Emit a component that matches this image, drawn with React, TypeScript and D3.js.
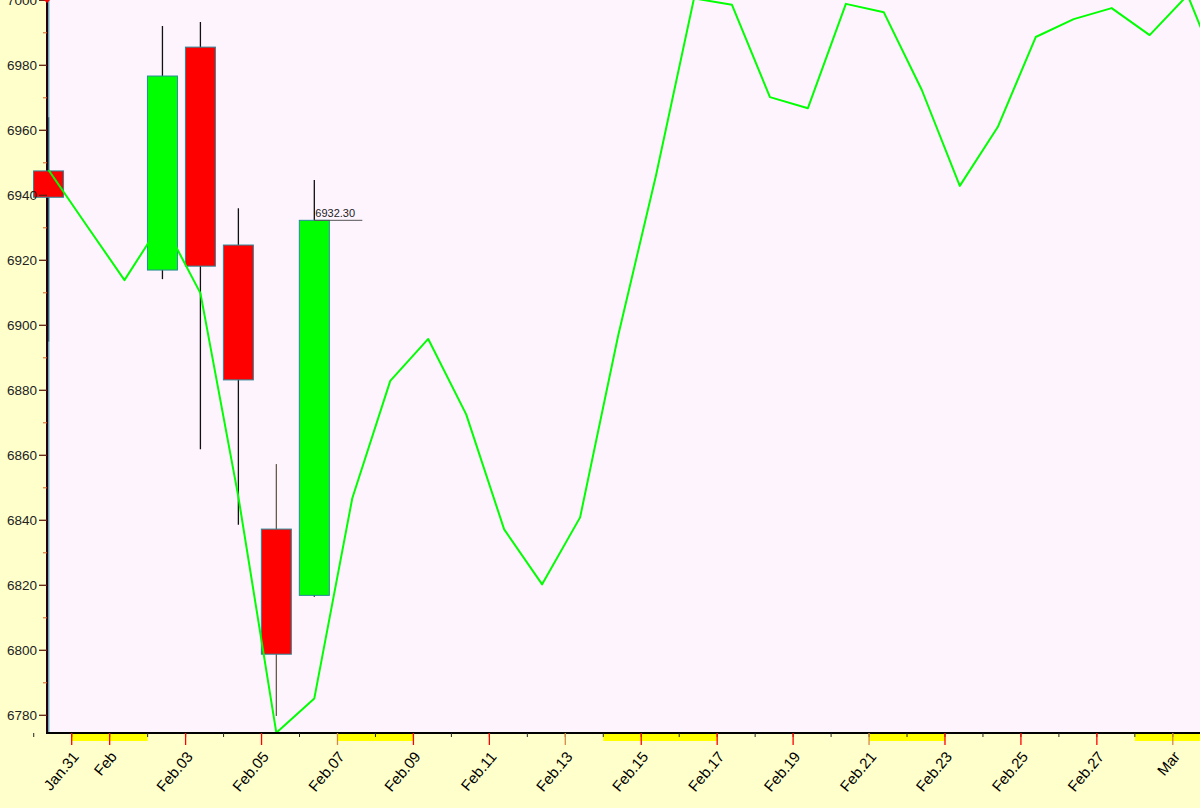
import React from "react";
import * as d3 from "d3";

// ---- data ----
const candleDates = ["2026-01-30", "2026-02-02", "2026-02-03", "2026-02-04", "2026-02-05", "2026-02-06"];
const candleOpen = [6947.5, 6917.0, 6985.6, 6924.7, 6837.3, 6816.9];
const candleHigh = [6964.0, 6992.1, 6993.3, 6936.0, 6857.3, 6944.7];
const candleLow = [6895.0, 6914.2, 6861.9, 6838.6, 6779.8, 6816.5];
const candleClose = [6939.4, 6976.7, 6918.2, 6883.2, 6798.8, 6932.3];

const lineDates = [
  "2026-01-30", "2026-01-31", "2026-02-01", "2026-02-02", "2026-02-03", "2026-02-04", "2026-02-05",
  "2026-02-06", "2026-02-07", "2026-02-08", "2026-02-09", "2026-02-10", "2026-02-11", "2026-02-12",
  "2026-02-13", "2026-02-14", "2026-02-15", "2026-02-16", "2026-02-17", "2026-02-18", "2026-02-19",
  "2026-02-20", "2026-02-21", "2026-02-22", "2026-02-23", "2026-02-24", "2026-02-25", "2026-02-26",
  "2026-02-27", "2026-02-28", "2026-03-01", "2026-03-02",
];
const lineValues = [
  6947.8, 6930.8, 6913.9, 6932.1, 6909.9, 6847.2, 6774.6,
  6785.2, 6846.8, 6882.9, 6895.8, 6872.6, 6837.2, 6820.3,
  6840.9, 6896.7, 6946.2, 7000.6, 6998.6, 6970.2, 6966.8,
  6998.9, 6996.3, 6972.4, 6942.9, 6961.0, 6988.7, 6994.2,
  6997.6, 6989.3, 7001.6, 6972.9,
];

const tickDates = [
  "2026-01-31", "2026-02-01", "2026-02-03", "2026-02-05", "2026-02-07", "2026-02-09", "2026-02-11",
  "2026-02-13", "2026-02-15", "2026-02-17", "2026-02-19", "2026-02-21", "2026-02-23", "2026-02-25",
  "2026-02-27", "2026-03-01",
];
const tickLabels = [
  "Jan.31", "Feb", "Feb.03", "Feb.05", "Feb.07", "Feb.09", "Feb.11", "Feb.13", "Feb.15", "Feb.17",
  "Feb.19", "Feb.21", "Feb.23", "Feb.25", "Feb.27", "Mar",
];
const accentTickDates = ["2026-02-07", "2026-02-13", "2026-02-21", "2026-03-01"];

const offDayStarts = ["2026-01-31", "2026-02-07", "2026-02-14", "2026-02-21", "2026-02-28"];
const offDayEnds = ["2026-02-02", "2026-02-09", "2026-02-17", "2026-02-23", "2026-03-02"];

const yMajorTicks = d3.range(6780, 7001, 20);
const yMinorTicks = d3.range(6790, 7001, 20);

const lastLabel = "6932.30";

// ---- layout ----
const W = 1200;
const H = 808;
const plotLeft = 47;
const plotBottom = 733;

const parse = d3.timeParse("%Y-%m-%d");

export default function App() {
  const x = d3
    .scaleTime()
    .domain([parse("2026-01-30")!, parse("2026-03-01")!])
    .range([33.73, 1172.8]);
  const y = d3.scaleLinear().domain([6780, 6980]).range([715.3, 65.3]);

  const dayW = x(parse("2026-01-31")!) - x(parse("2026-01-30")!);
  const cOff = dayW * 0.39;
  const bodyW = dayW * 0.79;

  const allDays = d3.timeDay.range(parse("2026-01-30")!, parse("2026-03-03")!);

  const candles = candleDates.map((d, i) => ({
    date: parse(d)!,
    o: candleOpen[i],
    h: candleHigh[i],
    l: candleLow[i],
    c: candleClose[i],
  }));

  const linePts = lineDates.map((d, i) => ({ date: parse(d)!, v: lineValues[i] }));
  const lineGen = d3
    .line<{ date: Date; v: number }>()
    .x((p) => x(p.date) + cOff)
    .y((p) => y(p.v));

  const font = "'Liberation Sans', Arial, sans-serif";
  const last = candles[candles.length - 1];
  const lastX = x(last.date) + cOff;

  return (
    <svg
      width={W}
      height={H}
      style={{ position: "absolute", left: 0, top: 0, display: "block" }}
      fontFamily={font}
    >
      <rect x={0} y={0} width={W} height={H} fill="#FFFFCC" />
      <rect x={plotLeft} y={0} width={W - plotLeft} height={plotBottom} fill="#FDF4FD" />

      {/* off-day bands */}
      {offDayStarts.map((s, i) => (
        <rect
          key={"band" + i}
          x={x(parse(s)!)}
          y={plotBottom}
          width={x(parse(offDayEnds[i])!) - x(parse(s)!)}
          height={8}
          fill="#FFFF00"
        />
      ))}

      {/* candles: wicks */}
      {candles.map((c, i) => (
        <line
          key={"w" + i}
          x1={x(c.date) + cOff}
          x2={x(c.date) + cOff}
          y1={y(c.h)}
          y2={y(c.l)}
          stroke={i === 4 ? "#6a5a4a" : "#111"}
          strokeWidth={1.3}
        />
      ))}

      {/* y axis line */}
      <line x1={plotLeft} x2={plotLeft} y1={0} y2={plotBottom} stroke="#200010" strokeWidth={2} />
      <line x1={plotLeft + 1.8} x2={plotLeft + 1.8} y1={0} y2={plotBottom} stroke="#2a8a9a" strokeWidth={1} />

      {/* candles: bodies */}
      {candles.map((c, i) => {
        const top = y(Math.max(c.o, c.c));
        const bot = y(Math.min(c.o, c.c));
        return (
          <rect
            key={"b" + i}
            x={x(c.date) + cOff - bodyW / 2}
            y={top}
            width={bodyW}
            height={bot - top}
            fill={c.c >= c.o ? "#00FF00" : "#FF0000"}
            stroke="#2a8a9a"
            strokeWidth={1}
          />
        );
      })}

      {/* last price marker */}
      <line x1={lastX} x2={lastX + 48} y1={y(last.c)} y2={y(last.c)} stroke="#555" strokeWidth={1} />
      <text x={lastX + 1} y={y(last.c) - 3} fontSize={11} fill="#222">
        {lastLabel}
      </text>

      {/* green line */}
      <path d={lineGen(linePts) || ""} fill="none" stroke="#00FF00" strokeWidth={2} strokeLinejoin="round" />

      {/* y ticks */}
      {yMinorTicks.map((t) => (
        <line key={"ym" + t} x1={plotLeft - 4} x2={plotLeft} y1={y(t)} y2={y(t)} stroke="#E06020" strokeWidth={1} />
      ))}
      {yMajorTicks.map((t) => (
        <g key={"yM" + t}>
          <line x1={plotLeft - 8} x2={plotLeft} y1={y(t)} y2={y(t)} stroke="#602010" strokeWidth={1.3} />
          <text x={plotLeft - 10} y={y(t)} dy="0.36em" textAnchor="end" fontSize={13.5} fill="#222">
            {t}
          </text>
        </g>
      ))}

      {/* red marker top-left */}
      <path
        d={`M${plotLeft},${-6} L${plotLeft + 4.5},${-1.5} L${plotLeft},${3} L${plotLeft - 4.5},${-1.5} Z`}
        fill="#FF0000"
      />

      {/* x axis */}
      <line x1={plotLeft - 1} x2={W} y1={plotBottom} y2={plotBottom} stroke="#000" strokeWidth={2} />
      {allDays.map((d, i) => (
        <line
          key={"xd" + i}
          x1={x(d)}
          x2={x(d)}
          y1={plotBottom}
          y2={plotBottom + 4}
          stroke="#222"
          strokeWidth={1}
        />
      ))}
      {tickDates.map((d, i) => {
        const xx = x(parse(d)!);
        const accent = accentTickDates.includes(d);
        return (
          <g key={"xt" + i}>
            <line
              x1={xx}
              x2={xx}
              y1={plotBottom}
              y2={plotBottom + 12}
              stroke={accent ? "#D88840" : "#FF0000"}
              strokeWidth={1.3}
            />
            <text
              transform={`translate(${xx + 8},${757}) rotate(-50)`}
              textAnchor="end"
              fontSize={15}
              fill="#000"
            >
              {tickLabels[i]}
            </text>
          </g>
        );
      })}
    </svg>
  );
}
